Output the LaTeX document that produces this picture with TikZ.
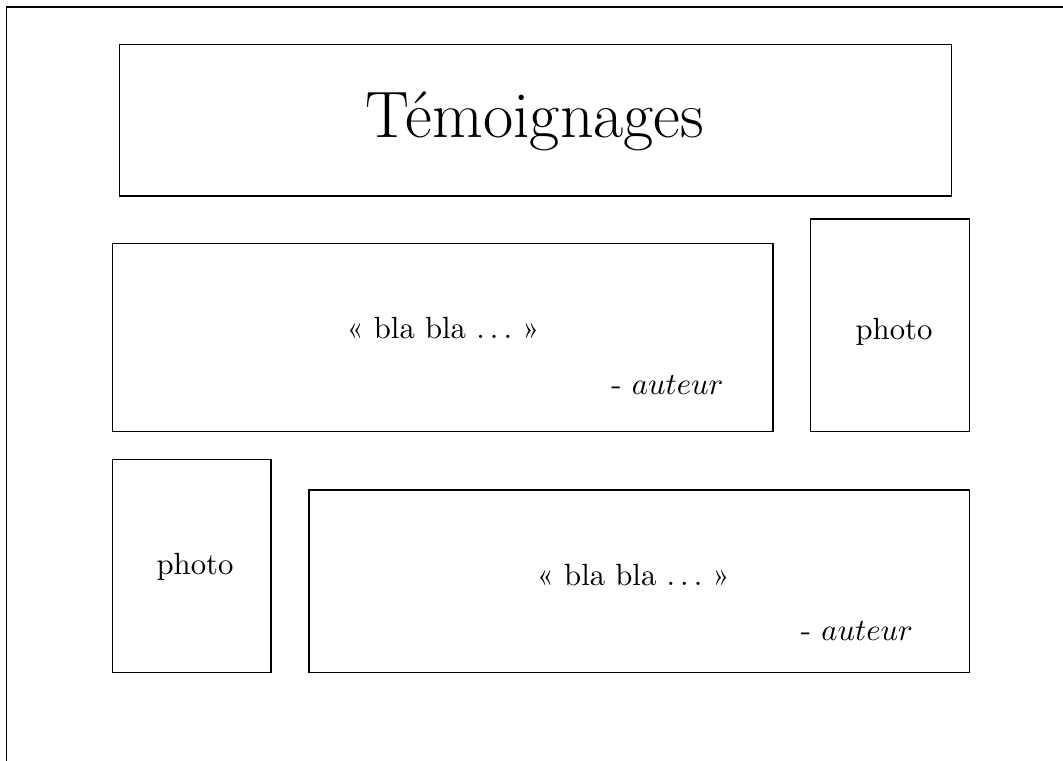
\documentclass[tikz,border=0pt]{standalone}
\usepackage{fontspec}
\begin{document}
\begin{tikzpicture}[x=0.3257pt,y=-0.3257pt,
  frame/.style={line width=0.5pt},
  box/.style={line width=0.4pt},
  txt/.style={inner sep=0pt,anchor=base},
  auth/.style={inner sep=0pt,anchor=base east}]
\useasboundingbox (0,0) rectangle (1063,760);
% outer frame (only left and top edges visible)
\coordinate (fbl) at (6.5,761);
\coordinate (ftl) at (6.5,7);
\coordinate (ftr) at (1064,7);
\draw[frame] (fbl) -- (ftl) -- (ftr);
% boxes
\draw[box] (119.5,44.7) rectangle (951.7,196);
\draw[box] (112.3,243.3) rectangle (773,431.7);
\draw[box] (810.7,219) rectangle (969.7,431.7);
\draw[box] (112.3,459.3) rectangle (271,672.3);
\draw[box] (309,490) rectangle (969.7,672.3);
% texts
\node[txt] (title) at (535,137) {\fontsize{21.4}{26}\selectfont Témoignages};
\node[txt] (q1) at (443,338.5) {« bla bla $\ldots$ »};
\node[auth] (a1) at (724,394) {- $auteur$};
\node[txt] (p1) at (894,339) {photo};
\node[txt] (p2) at (195,574.3) {photo};
\node[txt] (q2) at (633.3,585.5) {« bla bla $\ldots$ »};
\node[auth] (a2) at (913.5,640.5) {- $auteur$};
\end{tikzpicture}
\end{document}
